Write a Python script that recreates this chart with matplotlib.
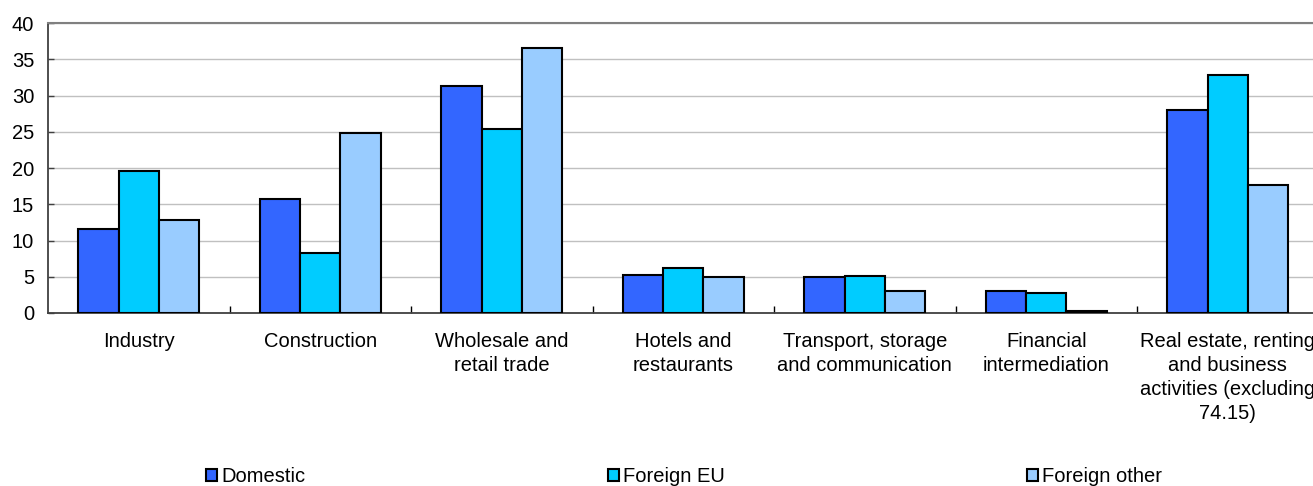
import matplotlib
matplotlib.use('Agg')
import matplotlib.pyplot as plt
import numpy as np

plt.rcParams['font.family'] = ['Liberation Sans', 'DejaVu Sans']

# sector labels and share of enterprises (%) by ownership
sectors = ['Industry', 'Construction', 'Wholesale and\nretail trade', 'Hotels and\nrestaurants',
           'Transport, storage\nand communication', 'Financial\nintermediation',
           'Real estate, renting\nand business\nactivities (excluding\n74.15)']
domestic = [11.6, 15.7, 31.3, 5.25, 5.0, 3.1, 27.95]
foreign_eu = [19.6, 8.3, 25.4, 6.2, 5.1, 2.7, 32.8]
foreign_other = [12.8, 24.8, 36.6, 5.0, 3.0, 0.25, 17.7]

series = [('Domestic', domestic, '#3366FF'),
          ('Foreign EU', foreign_eu, '#00CCFF'),
          ('Foreign other', foreign_other, '#99CCFF')]

fs = 14.5

fig = plt.figure(figsize=(13.13, 4.86), dpi=100)
ax = fig.add_axes([48 / 1313, 1 - 313 / 486, 1270.5 / 1313, 290 / 486])

x = np.arange(len(sectors))
w = 0.223
for k, (name, vals, col) in enumerate(series):
    ax.bar(x + (k - 1) * w, vals, width=w, color=col, edgecolor='black', linewidth=1.5,
           label=name, zorder=3)

ax.set_xlim(-0.5, len(sectors) - 0.5)
ax.set_ylim(0, 40)
ax.set_yticks(range(0, 41, 5))
ax.yaxis.grid(True, color='#C0C0C0', linewidth=1, zorder=0)
ax.set_axisbelow(True)

ax.set_xticks(x)
ax.set_xticklabels(sectors, fontsize=fs, linespacing=1.32, va='top')
ax.set_xticks(np.arange(0.5, len(sectors) - 0.5, 1), minor=True)
ax.tick_params(axis='x', which='major', length=0, pad=14)
ax.tick_params(axis='x', which='minor', direction='in', length=5, width=1, color='black')
ax.tick_params(axis='y', direction='in', length=4, width=1, color='#404040', labelsize=fs, pad=10)

for side in ['left', 'bottom']:
    ax.spines[side].set_color('#404040')
    ax.spines[side].set_linewidth(1.3)
ax.spines['top'].set_color('#808080')
ax.spines['top'].set_linewidth(1.5)
ax.spines['right'].set_visible(False)

fig.legend(loc='center', bbox_to_anchor=(0.521, 0.019), ncol=3, frameon=False,
           fontsize=fs, handlelength=0.55, handleheight=0.55, handletextpad=0.2,
           columnspacing=15)

fig.savefig('out.png', dpi=100)
